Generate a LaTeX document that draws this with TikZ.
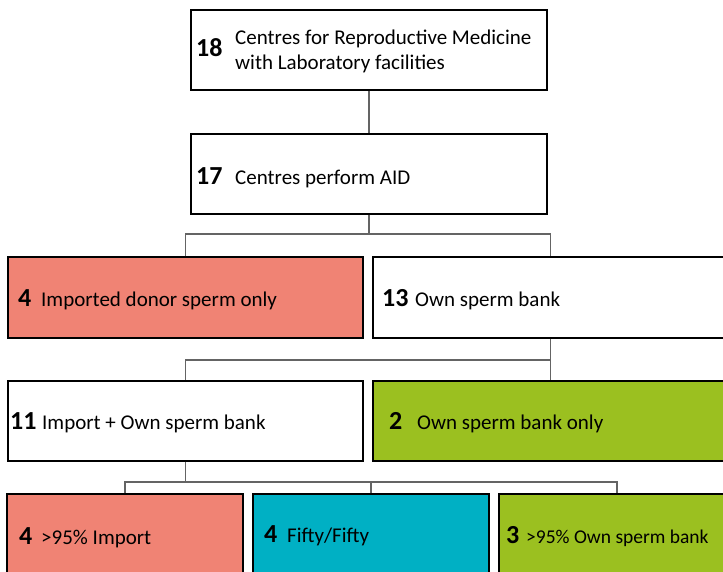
\documentclass[tikz,border=0pt]{standalone}
\usepackage{fontspec}
\setmainfont{Carlito}
\usetikzlibrary{positioning}
\definecolor{impcol}{RGB}{240,131,116}
\definecolor{halfcol}{RGB}{0,176,196}
\definecolor{owncol}{RGB}{155,192,32}
\definecolor{linkcol}{RGB}{100,100,100}

\begin{document}
\begin{tikzpicture}[x=1pt,y=-1pt]
\tikzstyle{every node}+=[inner sep=0pt]
\tikzstyle{box}=[draw=black, line width=1.3pt, minimum width=356pt, minimum height=80pt]
\tikzstyle{small}=[box, minimum width=236pt]
\tikzstyle{link}=[draw=linkcol, line width=1.6pt]
\tikzstyle{num}=[anchor=base west, font=\fontsize{26}{26}\selectfont\bfseries]
\tikzstyle{txt}=[anchor=base west, font=\fontsize{21}{25}\selectfont, align=left]
\useasboundingbox (0,0) rectangle (723,572);
\clip (0,0) rectangle (723,572);
% boxes
\node [box, fill=white] (centres) at (369,50) {};
\node [box, fill=white] (aid) at (369,174) {};
\node [box, minimum width=355pt, minimum height=81pt, fill=impcol] (imported) at (185.5,297.5) {};
\node [box, minimum width=355pt, minimum height=81pt, fill=white] (ownbank) at (550.5,297.5) {};
\node [box, minimum width=355pt, fill=white] (mixed) at (185.5,421) {};
\node [box, minimum width=355pt, fill=owncol] (ownonly) at (550.5,421) {};
\node [small, fill=impcol] (moreimp) at (125,534) {};
\node [small, fill=halfcol] (fifty) at (371,534) {};
\node [small, fill=owncol] (moreown) at (617,534) {};
% junctions
\coordinate (j1) at (369,234);
\coordinate (j2) at (550.5,360);
\coordinate (j3) at (185.5,482);
% connectors
\draw [link] (centres.south) -- (aid.north);
\draw [link] (aid.south) -- (j1);
\draw [link] (imported.north) |- (j1) -| (ownbank.north);
\draw [link] (ownbank.south) -- (ownonly.north);
\draw [link] (j2) -| (mixed.north);
\draw [link] (mixed.south) -- (j3);
\draw [link] (moreimp.north) |- (j3) -| (moreown.north);
\draw [link] (fifty.north) -- (fifty.north |- j3);
% labels
\node [num] (n18) at (196,57) {18};
\node [txt, anchor=north west] (t18) at (235,30) {Centres for Reproductive Medicine\\with Laboratory facilities};
\node [num] (n17) at (196,185) {17};
\node [txt] (t17) at (235,185) {Centres perform AID};
\node [num] (n4a) at (18,306) {4};
\node [txt] (t4a) at (41,306) {Imported donor sperm only};
\node [num] (n13) at (382,306) {13};
\node [txt] (t13) at (415,306) {Own sperm bank};
\node [num] (n11) at (10,429) {11};
\node [txt] (t11) at (42,429) {Import + Own sperm bank};
\node [num] (n2) at (389,429) {2};
\node [txt] (t2) at (417,429) {Own sperm bank only};
\node [num] (n4b) at (19,544) {4};
\node [txt] (t4b) at (41,544) {>95\% Import};
\node [num] (n4c) at (264,542) {4};
\node [txt] (t4c) at (287,542) {Fifty/Fifty};
\node [num] (n3) at (506,543) {3};
\node [txt, font=\fontsize{19.5}{24}\selectfont] (t3) at (526,543) {>95\% Own sperm bank};
\end{tikzpicture}
\end{document}
